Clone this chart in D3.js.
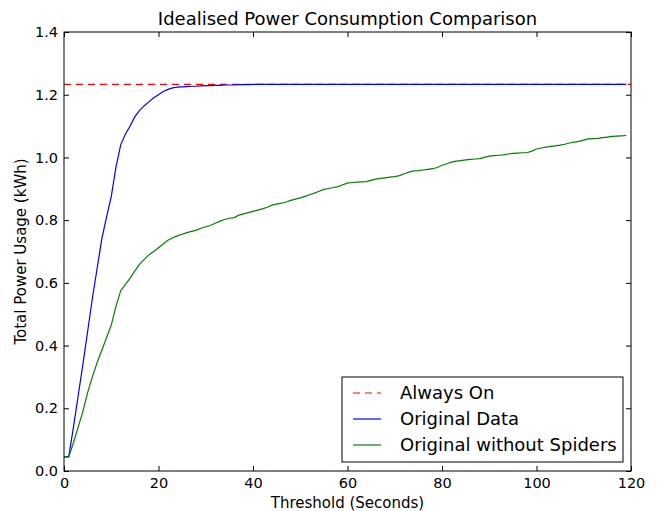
<!DOCTYPE html>
<html>
<head>
<meta charset="utf-8">
<script src="https://cdn.jsdelivr.net/npm/d3@7"></script>
<style>
  body { margin: 0; background: #fff; }
  svg { display: block; font-family: "DejaVu Sans", sans-serif; }
</style>
</head>
<body>
<div id="chart"></div>
<script>
// --- data ---
var alwaysOn = 1.233;
var alwaysOnRange = [0, 120];

var seconds = d3.range(0, 120); // 0..119

var originalData = [
  0.045, 0.045, 0.14, 0.24, 0.34, 0.445, 0.55, 0.645, 0.74, 0.81,
  0.875, 0.97, 1.04, 1.075, 1.10, 1.13, 1.15, 1.165, 1.178, 1.19,
  1.20, 1.21, 1.217, 1.222, 1.224, 1.225, 1.226, 1.227, 1.227, 1.228,
  1.229, 1.229, 1.230, 1.230, 1.231, 1.231, 1.231, 1.232, 1.232, 1.232,
  1.233, 1.233, 1.233, 1.233, 1.233, 1.233, 1.233, 1.233, 1.233, 1.233,
  1.233, 1.233, 1.233, 1.233, 1.233, 1.233, 1.233, 1.233, 1.233, 1.233,
  1.233, 1.233, 1.233, 1.233, 1.233, 1.233, 1.233, 1.233, 1.233, 1.233,
  1.233, 1.233, 1.233, 1.233, 1.233, 1.233, 1.233, 1.233, 1.233, 1.233,
  1.233, 1.233, 1.233, 1.233, 1.233, 1.233, 1.233, 1.233, 1.233, 1.233,
  1.233, 1.233, 1.233, 1.233, 1.233, 1.233, 1.233, 1.233, 1.233, 1.233,
  1.233, 1.233, 1.233, 1.233, 1.233, 1.233, 1.233, 1.233, 1.233, 1.233,
  1.233, 1.233, 1.233, 1.233, 1.233, 1.233, 1.233, 1.233, 1.233, 1.233
];

var withoutSpiders = [
  0.045, 0.045, 0.09, 0.14, 0.19, 0.25, 0.30, 0.345, 0.385, 0.425,
  0.465, 0.525, 0.575, 0.595, 0.615, 0.638, 0.66, 0.675, 0.69, 0.70,
  0.712, 0.724, 0.736, 0.744, 0.75, 0.755, 0.76, 0.764, 0.768, 0.774,
  0.779, 0.783, 0.79, 0.797, 0.802, 0.806, 0.808, 0.816, 0.82, 0.824,
  0.828, 0.832, 0.836, 0.841, 0.848, 0.851, 0.854, 0.858, 0.863, 0.867,
  0.871, 0.876, 0.881, 0.886, 0.892, 0.898, 0.901, 0.904, 0.907, 0.913,
  0.918, 0.92, 0.921, 0.922, 0.923, 0.927, 0.931, 0.933, 0.935, 0.937,
  0.939, 0.942, 0.948, 0.953, 0.957, 0.958, 0.96, 0.962, 0.964, 0.968,
  0.975, 0.98, 0.985, 0.988, 0.99, 0.992, 0.994, 0.995, 0.996, 1.0,
  1.004, 1.006, 1.007, 1.008, 1.011, 1.013, 1.014, 1.015, 1.015, 1.02,
  1.027, 1.03, 1.033, 1.035, 1.037, 1.039, 1.042, 1.046, 1.049, 1.051,
  1.055, 1.059, 1.06, 1.061, 1.063, 1.065, 1.067, 1.068, 1.069, 1.070
];

var xTicks = [0, 20, 40, 60, 80, 100, 120];
var yTicks = [0.0, 0.2, 0.4, 0.6, 0.8, 1.0, 1.2, 1.4];
var legendLabels = ["Always On", "Original Data", "Original without Spiders"];

// --- layout ---
var width = 659, height = 511;
var margin = {top: 32, right: 28, bottom: 40, left: 64};
var innerW = 631 - margin.left, innerH = 471 - margin.top;

var svg = d3.select("#chart").append("svg")
    .attr("width", width)
    .attr("height", height);

var g = svg.append("g")
    .attr("transform", "translate(" + margin.left + "," + margin.top + ")");

var x = d3.scaleLinear().domain([0, 120]).range([0, innerW]);
var y = d3.scaleLinear().domain([0, 1.4]).range([innerH, 0]);

// clip lines to the axes box
g.append("clipPath").attr("id", "clip")
  .append("rect").attr("width", innerW).attr("height", innerH);

var plot = g.append("g").attr("clip-path", "url(#clip)");

var line = d3.line()
    .x(function (d) { return x(d[0]) })
    .y(function (d) { return y(d[1]) });

// always on (dashed red)
plot.append("path")
    .datum(alwaysOnRange.map(function (v) { return [v, alwaysOn] }))
    .attr("d", line)
    .attr("fill", "none")
    .attr("stroke", "#ff0000")
    .attr("stroke-width", 1.2)
    .attr("stroke-dasharray", "7,5");

// original data (blue)
plot.append("path")
    .datum(seconds.map(function (s, i) { return [s, originalData[i]] }))
    .attr("d", line)
    .attr("fill", "none")
    .attr("stroke", "#0000ff")
    .attr("stroke-width", 1.2);

// without spiders (green)
plot.append("path")
    .datum(seconds.map(function (s, i) { return [s, withoutSpiders[i]] }))
    .attr("d", line)
    .attr("fill", "none")
    .attr("stroke", "#008000")
    .attr("stroke-width", 1.2);

// axes: ticks point inward on all four sides (classic matplotlib)
var tickLen = 5;
var fmtY = d3.format(".1f");

var xAxis = g.append("g")
    .attr("transform", "translate(0," + innerH + ")")
    .call(d3.axisBottom(x).tickValues(xTicks).tickSizeInner(-tickLen).tickSizeOuter(0).tickPadding(7));
var xTop = g.append("g")
    .call(d3.axisTop(x).tickValues(xTicks).tickSizeInner(-tickLen).tickSizeOuter(0).tickFormat(""));
var yAxis = g.append("g")
    .call(d3.axisLeft(y).tickValues(yTicks).tickSizeInner(-tickLen).tickSizeOuter(0).tickPadding(6).tickFormat(fmtY));
var yRight = g.append("g")
    .attr("transform", "translate(" + innerW + ",0)")
    .call(d3.axisRight(y).tickValues(yTicks).tickSizeInner(-tickLen).tickSizeOuter(0).tickFormat(""));

[xAxis, xTop, yAxis, yRight].forEach(function (a) {
    a.select(".domain").remove();
    a.selectAll("line").attr("stroke", "#000").attr("stroke-width", 1);
    a.selectAll("text").attr("fill", "#000").style("font-size", "14.5px").style("font-family", "DejaVu Sans");
});

// frame
g.append("rect")
    .attr("width", innerW)
    .attr("height", innerH)
    .attr("fill", "none")
    .attr("stroke", "#000")
    .attr("stroke-width", 1);

// title and axis labels
svg.append("text")
    .attr("x", margin.left + innerW / 2)
    .attr("y", 25)
    .attr("text-anchor", "middle")
    .style("font-size", "18px")
    .text("Idealised Power Consumption Comparison");

svg.append("text")
    .attr("x", margin.left + innerW / 2)
    .attr("y", 508)
    .attr("text-anchor", "middle")
    .style("font-size", "15px")
    .text("Threshold (Seconds)");

svg.append("text")
    .attr("transform", "translate(26," + (margin.top + innerH / 2) + ") rotate(-90)")
    .attr("text-anchor", "middle")
    .style("font-size", "15px")
    .text("Total Power Usage (kWh)");

// legend
var legendStyles = [
    {color: "#ff0000", dash: "7,5"},
    {color: "#0000ff", dash: null},
    {color: "#008000", dash: null}
];

var legend = svg.append("g").attr("transform", "translate(342,377)");
legend.append("rect")
    .attr("width", 281)
    .attr("height", 85)
    .attr("fill", "#fff")
    .attr("stroke", "#000")
    .attr("stroke-width", 1);

legendLabels.forEach(function (lbl, i) {
    var ly = 16 + i * 26;
    legend.append("line")
        .attr("x1", 11).attr("x2", 39)
        .attr("y1", ly).attr("y2", ly)
        .attr("stroke", legendStyles[i].color)
        .attr("stroke-width", 1.2)
        .attr("stroke-dasharray", legendStyles[i].dash);
    legend.append("text")
        .attr("x", 58)
        .attr("y", ly)
        .attr("dy", "0.35em")
        .style("font-size", "18px")
        .text(lbl);
});
</script>
</body>
</html>
